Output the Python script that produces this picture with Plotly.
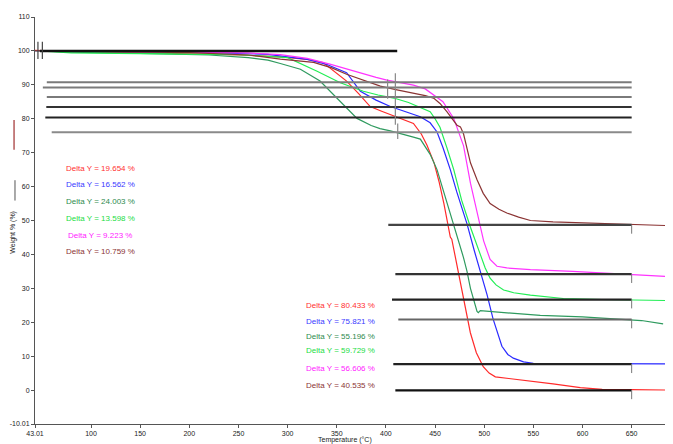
import plotly.graph_objects as go

# ---------------- data ----------------
names = ["red", "blue", "dkgreen", "ltgreen", "magenta", "brown"]

red_T = [43.01, 60, 100, 150, 200, 250, 290, 320, 336, 350, 360, 372, 384, 395, 404.5, 416, 428, 436, 441.8, 449, 454, 459, 462, 465.5, 467, 470, 475.7, 481, 485.9, 492, 499, 505, 511.3, 525, 547, 570, 597.8, 620, 650, 689]
red_W = [100.2, 100, 99.8, 99.5, 99.2, 98.8, 98.3, 97.5, 96.6, 93.5, 91.1, 87.5, 83.6, 82.3, 81.3, 80.0, 78.6, 75.5, 72.2, 67, 61.5, 55, 50, 45.1, 44.5, 40, 32, 24, 16.9, 11, 6.9, 5, 3.9, 3.4, 2.7, 1.8, 0.7, 0.2, 0.1, 0.0]

blue_T = [43.01, 100, 200, 280, 320, 340, 360, 374, 390, 404.5, 420, 435, 445, 452, 458, 465.5, 472, 482.5, 490, 496, 503, 509, 518, 524, 529.6, 540, 550, 600, 650, 689]
blue_W = [100.1, 99.9, 99.6, 99, 97.5, 96, 93.6, 88.1, 85.5, 83.6, 82, 80.6, 78.8, 76.1, 71.5, 65, 58.5, 49, 41, 35, 28, 21, 12.9, 10.5, 9.4, 8.3, 7.9, 7.8, 7.7, 7.7]

dkgreen_T = [43.01, 80, 150, 220, 260, 280, 292.6, 313, 333, 353.6, 370.6, 385, 394, 404.5, 416, 428, 435, 441.8, 445, 452, 458.7, 465.5, 472, 479, 482.5, 486, 492.7, 494, 496, 520, 557, 600, 631, 660, 682]
dkgreen_W = [100.1, 99.6, 99.3, 98.8, 98, 97.3, 96.3, 94.6, 91.1, 85.1, 80.1, 78, 77.1, 76.4, 75.6, 74.6, 74, 71.1, 69.5, 65, 58.5, 52, 46, 39, 35, 30, 23.2, 22.8, 23.4, 22.8, 22, 21.6, 21.1, 20.5, 19.5]

ltgreen_T = [43.01, 80, 150, 250, 300, 330, 353.6, 377, 392, 408, 423, 438, 445, 450, 455, 462, 469, 477, 486, 496, 501, 506, 512, 519.7, 530, 547, 580.5, 620, 650, 686]
ltgreen_W = [100.1, 99.4, 99.2, 98.9, 98, 94, 90.6, 88.1, 87, 86.1, 84.8, 83.1, 82.1, 80, 77.5, 71.5, 65, 56, 48, 40, 36, 33, 31, 29.5, 28.7, 28, 27, 26.7, 26.5, 26.4]

magenta_T = [43.01, 100, 200, 260, 292.6, 320, 343, 360, 377, 390, 401, 415, 428, 440, 448.5, 458, 469, 479, 486, 492.7, 499.4, 506, 513, 523, 547, 590, 625, 650, 686]
magenta_W = [100.1, 99.9, 99.7, 99.4, 98.9, 97.8, 96.1, 94.7, 93.1, 92.2, 91.4, 90.6, 89.9, 88.8, 87.1, 85, 80.1, 72, 61, 52, 44, 38.5, 36.5, 36, 35.5, 35, 34.5, 34.2, 33.5]

brown_T = [43.01, 100, 200, 260, 292.6, 326.5, 345, 360, 378, 394.3, 410, 428, 440, 448.5, 455, 462, 467, 472.3, 475.8, 479, 486, 492.7, 499, 506, 515, 523, 535, 547, 570, 597.8, 630, 660, 686]
brown_W = [100.1, 99.9, 99.5, 98.8, 97.6, 96.6, 95, 93.1, 91.2, 89.6, 88.6, 87.6, 86.8, 86.1, 84.5, 82.1, 80.2, 78.1, 77.6, 75.5, 67, 62, 58, 55, 53.3, 52.2, 51, 50, 49.6, 49.3, 49, 48.8, 48.5]

# step analysis (Delta Y values)
delta_upper = [19.654, 16.562, 24.003, 13.598, 9.223, 10.759]
delta_lower = [80.433, 75.821, 55.196, 59.729, 56.606, 40.535]
baseline_W = 100.0
upper_start_T = [53.5, 54.5, 60.0, 55.0, 55.0, 51.0]
lower_start_T = [409.6, 407.5, 412.6, 406.2, 409.6, 402.4]
step_end_T = 650.0
baseline_T = [48.0, 411.5]

# cursors
start_cursor_T = [42.0, 46.0, 50.5]
start_cursor_W = [97.6, 102.7]
mid_cursor_T = [401.7, 409.6, 412.0]
mid_cursor_W = [[85.9, 91.6], [78.2, 93.4], [74.0, 78.6]]

x_ticks = [43.01, 100, 150, 200, 250, 300, 350, 400, 450, 500, 550, 600, 650, 689]
y_ticks = [-10.01, 0, 10, 20, 30, 40, 50, 60, 70, 80, 90, 100, 110]

# ---------------- styles ----------------
colors = {"red": "#ff2a2a", "blue": "#2a2aff", "dkgreen": "#2e9a5e",
          "ltgreen": "#22ee55", "magenta": "#ff33ff", "brown": "#8b3434"}
text_colors = {"red": "#ff3030", "blue": "#3a3aff", "dkgreen": "#2e8b4e",
               "ltgreen": "#22dd44", "magenta": "#ff22ff", "brown": "#8b3434"}
upper_line_col = ["#222222", "#333333", "#8a8a8a", "#7a7a7a", "#7a7a7a", "#7a7a7a"]
lower_line_col = ["#111111", "#222222", "#666666", "#222222", "#333333", "#444444"]
FONT = "Liberation Sans, Arial, sans-serif"

curves = {"red": (red_T, red_W), "blue": (blue_T, blue_W), "dkgreen": (dkgreen_T, dkgreen_W),
          "ltgreen": (ltgreen_T, ltgreen_W), "magenta": (magenta_T, magenta_W), "brown": (brown_T, brown_W)}

fig = go.Figure()

for n in names:
    T, W = curves[n]
    fig.add_trace(go.Scatter(x=T, y=W, mode="lines", line=dict(color=colors[n], width=1.2),
                             showlegend=False, hoverinfo="skip"))

# baseline at 100
fig.add_trace(go.Scatter(x=baseline_T, y=[baseline_W, baseline_W], mode="lines",
                         line=dict(color="#111111", width=2.5), showlegend=False, hoverinfo="skip"))

upper_levels = [baseline_W - d for d in delta_upper]
lower_levels = [u - d for u, d in zip(upper_levels, delta_lower)]

for i, n in enumerate(names):
    fig.add_trace(go.Scatter(x=[upper_start_T[i], step_end_T], y=[upper_levels[i]] * 2, mode="lines",
                             line=dict(color=upper_line_col[i], width=2), showlegend=False, hoverinfo="skip"))
    fig.add_trace(go.Scatter(x=[lower_start_T[i], step_end_T], y=[lower_levels[i]] * 2, mode="lines",
                             line=dict(color=lower_line_col[i], width=2.2), showlegend=False, hoverinfo="skip"))
    fig.add_trace(go.Scatter(x=[step_end_T, step_end_T], y=[lower_levels[i] - 2.6, lower_levels[i] + 2.6],
                             mode="lines", line=dict(color="#777777", width=1, dash="dash"),
                             showlegend=False, hoverinfo="skip"))

for t in start_cursor_T:
    fig.add_trace(go.Scatter(x=[t, t], y=start_cursor_W, mode="lines",
                             line=dict(color="#444444", width=1.2), showlegend=False, hoverinfo="skip"))
for t, w in zip(mid_cursor_T, mid_cursor_W):
    fig.add_trace(go.Scatter(x=[t, t], y=w, mode="lines",
                             line=dict(color="#888888", width=1.2), showlegend=False, hoverinfo="skip"))

# Delta Y annotations
upper_label_W = [65.2, 60.6, 55.6, 50.6, 45.7, 41.0]
lower_label_W = [24.8, 20.2, 15.7, 11.7, 6.4, 1.2]
annotations = []
for i, n in enumerate(names):
    annotations.append(dict(x=109.5, y=upper_label_W[i], xref="x", yref="y", showarrow=False,
                            text=f"Delta Y = {delta_upper[i]:.3f} %",
                            font=dict(family=FONT, size=8, color=text_colors[n])))
    annotations.append(dict(x=353.5, y=lower_label_W[i], xref="x", yref="y", showarrow=False,
                            text=f"Delta Y = {delta_lower[i]:.3f} %",
                            font=dict(family=FONT, size=8, color=text_colors[n])))

annotations.append(dict(x=0.488, y=-0.055, xref="paper", yref="paper", showarrow=False,
                        text="Temperature (°C)", font=dict(family=FONT, size=7, color="#222222")))
annotations.append(dict(x=-0.034, y=0.471, xref="paper", yref="paper", showarrow=False, textangle=-90,
                        xanchor="center", yanchor="middle",
                        text="Weight % (%)", font=dict(family=FONT, size=7, color="#222222")))

shapes = [
    dict(type="line", xref="paper", yref="paper", x0=-0.033, x1=-0.033, y0=0.674, y1=0.747,
         line=dict(color="#a03030", width=1.2)),
    dict(type="line", xref="paper", yref="paper", x0=-0.0315, x1=-0.0315, y0=0.549, y1=0.599,
         line=dict(color="#555555", width=1)),
]

# the page body has an 8px margin, so the figure is sized to fill the rest of the window
fig.update_layout(
    width=665, height=436,
    margin=dict(l=27, r=3, t=9, b=20),
    plot_bgcolor="white", paper_bgcolor="white",
    annotations=annotations, shapes=shapes,
    font=dict(family=FONT, size=7, color="#222222"),
)
fig.update_xaxes(range=[43.01, 689], tickmode="array", tickvals=x_ticks, automargin=False,
                 ticktext=[str(v) for v in x_ticks], showgrid=False, zeroline=False,
                 showline=True, linecolor="#555555", linewidth=1, ticks="outside", ticklen=3,
                 tickcolor="#555555", tickfont=dict(family=FONT, size=7, color="#222222"))
fig.update_yaxes(range=[-10.01, 110], tickmode="array", tickvals=y_ticks, automargin=False,
                 ticktext=[str(v) for v in y_ticks], showgrid=False, zeroline=False,
                 showline=True, linecolor="#555555", linewidth=1, ticks="outside", ticklen=3,
                 tickcolor="#555555", tickfont=dict(family=FONT, size=7, color="#222222"))

fig.write_html("out.html")
